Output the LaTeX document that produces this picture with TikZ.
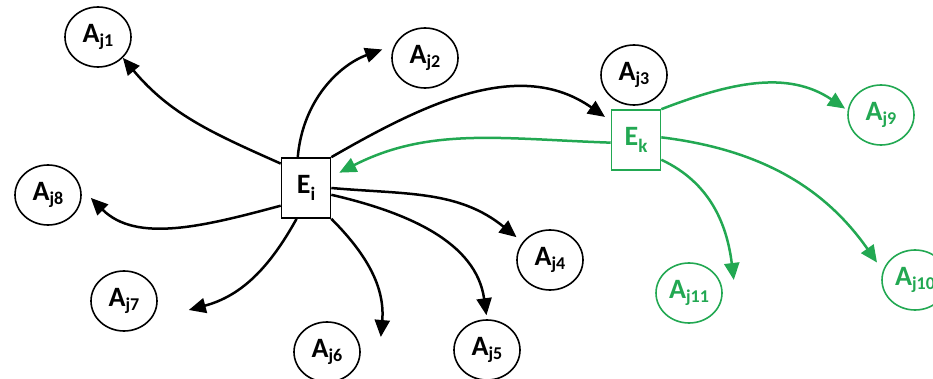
\documentclass[tikz,border=0pt]{standalone}
\usepackage{fontspec}
\setmainfont{Carlito}
\usetikzlibrary{arrows.meta,shapes.geometric}
\definecolor{kgreen}{RGB}{34,168,82}
\newcommand{\Alab}[1]{A\raisebox{-3.5pt}{\fontsize{18}{18}\selectfont #1}}
\newcommand{\Elab}[1]{E\raisebox{-7pt}{\fontsize{19}{19}\selectfont #1}}

\begin{document}
\begin{tikzpicture}[x=1pt,y=-1pt,
  actor/.style={draw,ellipse,line width=1.6pt,minimum width=66pt,minimum height=60pt,
    inner sep=0pt,font=\fontsize{28}{30}\selectfont\bfseries},
  entity/.style={draw,rectangle,line width=1.6pt,minimum width=49pt,minimum height=60pt,
    inner sep=0pt,font=\fontsize{28}{30}\selectfont\bfseries},
  link/.style={line width=2.5pt,-{Triangle[length=17pt,width=15pt]}},
  grn/.style={kgreen,text=kgreen}]
  \useasboundingbox (0,0) rectangle (933,379);

  % entities
  \node[entity]     (Ei) at (306,188) {\Elab{i}};
  \node[entity,grn] (Ek) at (636,140) {\Elab{k}};

  % actors of Ei
  \node[actor] (Aj1) at (98,37)   {\Alab{j1}};
  \node[actor] (Aj2) at (425,58)  {\Alab{j2}};
  \node[actor] (Aj3) at (634,75)  {\Alab{j3}};
  \node[actor] (Aj4) at (550,260) {\Alab{j4}};
  \node[actor] (Aj5) at (487,350) {\Alab{j5}};
  \node[actor] (Aj6) at (327,352) {\Alab{j6}};
  \node[actor] (Aj7) at (124,301) {\Alab{j7}};
  \node[actor] (Aj8) at (48,195)  {\Alab{j8}};

  % actors of Ek
  \node[actor,grn] (Aj9)  at (881,115) {\Alab{j9}};
  \node[actor,grn] (Aj10) at (915,280) {\Alab{j10}};
  \node[actor,grn] (Aj11) at (689,293) {\Alab{j11}};

  % links from Ei
  \draw[link] (Ei.136) to[out=156,in=-50] (Aj1.-40);
  \draw[link,shorten >=13pt] (Ei.105) to[out=85,in=200] (Aj2.157);
  \draw[link,shorten >=7pt] (Ei.north east) to[out=30,in=145] (Ek.143);
  \draw[link] (Ei.east) to[out=-5,in=141] ([shift={(-6pt,5pt)}]Aj4.147);
  \draw[link,shorten >=4pt] (Ei.-15) to[out=-13,in=98] (Aj5.north);
  \draw[link] (Ei.south east) to[out=-45,in=85] ([xshift=20pt,yshift=15pt]Aj6.east);
  \draw[link] (Ei.253) to[out=241,in=15] ([xshift=31pt,yshift=-9pt]Aj7.east);
  \draw[link,shorten >=14pt] (Ei.215) to[out=195,in=-45] (Aj8.12);

  % links from Ek
  \draw[link,kgreen,shorten >=9pt] (Ek.186) to[out=178,in=27] (Ei.24);
  \draw[link,kgreen,shorten >=3pt] (Ek.north east) to[out=21,in=146] (Aj9.172);
  \draw[link,kgreen,shorten >=10pt] (Ek.6) to[out=-7,in=125] (Aj10.164);
  \draw[link,kgreen] (Ek.-38) to[out=-25,in=97] ([xshift=11pt,yshift=13pt]Aj11.east);
\end{tikzpicture}
\end{document}
